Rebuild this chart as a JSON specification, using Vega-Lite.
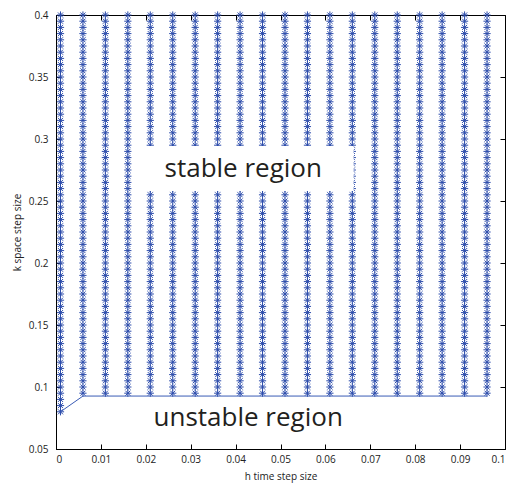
{
"$schema": "https://vega.github.io/schema/vega-lite/v6.json",
"width": 449, "height": 434,
"autosize": {"type": "none"},
"padding": {"left": 56, "top": 15, "right": 5, "bottom": 35},
"background": "white",
"config": {"view": {"stroke": "#000000", "strokeWidth": 1}, "font": "Open Sans",
 "axis": {"labelFont": "Open Sans", "titleFont": "Open Sans", "labelFontSize": 10, "titleFontSize": 10, "titleFontWeight": "normal", "labelColor": "#222222", "titleColor": "#222222", "tickColor": "#000000", "domainColor": "#000000", "grid": false}},
"resolve": {"axis": {"x": "independent", "y": "independent"}},
"layer": [
{"data": {"values": [
{"h":0.001,"k":0.08},{"h":0.001,"k":0.085},{"h":0.001,"k":0.09},{"h":0.001,"k":0.095},{"h":0.001,"k":0.1},{"h":0.001,"k":0.105},{"h":0.001,"k":0.11},{"h":0.001,"k":0.115},{"h":0.001,"k":0.12},{"h":0.001,"k":0.125},{"h":0.001,"k":0.13},{"h":0.001,"k":0.135},{"h":0.001,"k":0.14},{"h":0.001,"k":0.145},{"h":0.001,"k":0.15},{"h":0.001,"k":0.155},{"h":0.001,"k":0.16},{"h":0.001,"k":0.165},{"h":0.001,"k":0.17},{"h":0.001,"k":0.175},{"h":0.001,"k":0.18},{"h":0.001,"k":0.185},{"h":0.001,"k":0.19},{"h":0.001,"k":0.195},{"h":0.001,"k":0.2},{"h":0.001,"k":0.205},{"h":0.001,"k":0.21},{"h":0.001,"k":0.215},{"h":0.001,"k":0.22},{"h":0.001,"k":0.225},{"h":0.001,"k":0.23},{"h":0.001,"k":0.235},{"h":0.001,"k":0.24},{"h":0.001,"k":0.245},{"h":0.001,"k":0.25},{"h":0.001,"k":0.255},{"h":0.001,"k":0.26},{"h":0.001,"k":0.265},{"h":0.001,"k":0.27},{"h":0.001,"k":0.275},{"h":0.001,"k":0.28},{"h":0.001,"k":0.285},{"h":0.001,"k":0.29},{"h":0.001,"k":0.295},{"h":0.001,"k":0.3},{"h":0.001,"k":0.305},{"h":0.001,"k":0.31},{"h":0.001,"k":0.315},{"h":0.001,"k":0.32},{"h":0.001,"k":0.325},{"h":0.001,"k":0.33},{"h":0.001,"k":0.335},{"h":0.001,"k":0.34},{"h":0.001,"k":0.345},{"h":0.001,"k":0.35},{"h":0.001,"k":0.355},{"h":0.001,"k":0.36},{"h":0.001,"k":0.365},{"h":0.001,"k":0.37},{"h":0.001,"k":0.375},{"h":0.001,"k":0.38},{"h":0.001,"k":0.385},{"h":0.001,"k":0.39},{"h":0.001,"k":0.395},{"h":0.001,"k":0.4},
{"h":0.006,"k":0.095},{"h":0.006,"k":0.1},{"h":0.006,"k":0.105},{"h":0.006,"k":0.11},{"h":0.006,"k":0.115},{"h":0.006,"k":0.12},{"h":0.006,"k":0.125},{"h":0.006,"k":0.13},{"h":0.006,"k":0.135},{"h":0.006,"k":0.14},{"h":0.006,"k":0.145},{"h":0.006,"k":0.15},{"h":0.006,"k":0.155},{"h":0.006,"k":0.16},{"h":0.006,"k":0.165},{"h":0.006,"k":0.17},{"h":0.006,"k":0.175},{"h":0.006,"k":0.18},{"h":0.006,"k":0.185},{"h":0.006,"k":0.19},{"h":0.006,"k":0.195},{"h":0.006,"k":0.2},{"h":0.006,"k":0.205},{"h":0.006,"k":0.21},{"h":0.006,"k":0.215},{"h":0.006,"k":0.22},{"h":0.006,"k":0.225},{"h":0.006,"k":0.23},{"h":0.006,"k":0.235},{"h":0.006,"k":0.24},{"h":0.006,"k":0.245},{"h":0.006,"k":0.25},{"h":0.006,"k":0.255},{"h":0.006,"k":0.26},{"h":0.006,"k":0.265},{"h":0.006,"k":0.27},{"h":0.006,"k":0.275},{"h":0.006,"k":0.28},{"h":0.006,"k":0.285},{"h":0.006,"k":0.29},{"h":0.006,"k":0.295},{"h":0.006,"k":0.3},{"h":0.006,"k":0.305},{"h":0.006,"k":0.31},{"h":0.006,"k":0.315},{"h":0.006,"k":0.32},{"h":0.006,"k":0.325},{"h":0.006,"k":0.33},{"h":0.006,"k":0.335},{"h":0.006,"k":0.34},{"h":0.006,"k":0.345},{"h":0.006,"k":0.35},{"h":0.006,"k":0.355},{"h":0.006,"k":0.36},{"h":0.006,"k":0.365},{"h":0.006,"k":0.37},{"h":0.006,"k":0.375},{"h":0.006,"k":0.38},{"h":0.006,"k":0.385},{"h":0.006,"k":0.39},{"h":0.006,"k":0.395},{"h":0.006,"k":0.4},
{"h":0.011,"k":0.095},{"h":0.011,"k":0.1},{"h":0.011,"k":0.105},{"h":0.011,"k":0.11},{"h":0.011,"k":0.115},{"h":0.011,"k":0.12},{"h":0.011,"k":0.125},{"h":0.011,"k":0.13},{"h":0.011,"k":0.135},{"h":0.011,"k":0.14},{"h":0.011,"k":0.145},{"h":0.011,"k":0.15},{"h":0.011,"k":0.155},{"h":0.011,"k":0.16},{"h":0.011,"k":0.165},{"h":0.011,"k":0.17},{"h":0.011,"k":0.175},{"h":0.011,"k":0.18},{"h":0.011,"k":0.185},{"h":0.011,"k":0.19},{"h":0.011,"k":0.195},{"h":0.011,"k":0.2},{"h":0.011,"k":0.205},{"h":0.011,"k":0.21},{"h":0.011,"k":0.215},{"h":0.011,"k":0.22},{"h":0.011,"k":0.225},{"h":0.011,"k":0.23},{"h":0.011,"k":0.235},{"h":0.011,"k":0.24},{"h":0.011,"k":0.245},{"h":0.011,"k":0.25},{"h":0.011,"k":0.255},{"h":0.011,"k":0.26},{"h":0.011,"k":0.265},{"h":0.011,"k":0.27},{"h":0.011,"k":0.275},{"h":0.011,"k":0.28},{"h":0.011,"k":0.285},{"h":0.011,"k":0.29},{"h":0.011,"k":0.295},{"h":0.011,"k":0.3},{"h":0.011,"k":0.305},{"h":0.011,"k":0.31},{"h":0.011,"k":0.315},{"h":0.011,"k":0.32},{"h":0.011,"k":0.325},{"h":0.011,"k":0.33},{"h":0.011,"k":0.335},{"h":0.011,"k":0.34},{"h":0.011,"k":0.345},{"h":0.011,"k":0.35},{"h":0.011,"k":0.355},{"h":0.011,"k":0.36},{"h":0.011,"k":0.365},{"h":0.011,"k":0.37},{"h":0.011,"k":0.375},{"h":0.011,"k":0.38},{"h":0.011,"k":0.385},{"h":0.011,"k":0.39},{"h":0.011,"k":0.395},{"h":0.011,"k":0.4},
{"h":0.016,"k":0.095},{"h":0.016,"k":0.1},{"h":0.016,"k":0.105},{"h":0.016,"k":0.11},{"h":0.016,"k":0.115},{"h":0.016,"k":0.12},{"h":0.016,"k":0.125},{"h":0.016,"k":0.13},{"h":0.016,"k":0.135},{"h":0.016,"k":0.14},{"h":0.016,"k":0.145},{"h":0.016,"k":0.15},{"h":0.016,"k":0.155},{"h":0.016,"k":0.16},{"h":0.016,"k":0.165},{"h":0.016,"k":0.17},{"h":0.016,"k":0.175},{"h":0.016,"k":0.18},{"h":0.016,"k":0.185},{"h":0.016,"k":0.19},{"h":0.016,"k":0.195},{"h":0.016,"k":0.2},{"h":0.016,"k":0.205},{"h":0.016,"k":0.21},{"h":0.016,"k":0.215},{"h":0.016,"k":0.22},{"h":0.016,"k":0.225},{"h":0.016,"k":0.23},{"h":0.016,"k":0.235},{"h":0.016,"k":0.24},{"h":0.016,"k":0.245},{"h":0.016,"k":0.25},{"h":0.016,"k":0.255},{"h":0.016,"k":0.26},{"h":0.016,"k":0.265},{"h":0.016,"k":0.27},{"h":0.016,"k":0.275},{"h":0.016,"k":0.28},{"h":0.016,"k":0.285},{"h":0.016,"k":0.29},{"h":0.016,"k":0.295},{"h":0.016,"k":0.3},{"h":0.016,"k":0.305},{"h":0.016,"k":0.31},{"h":0.016,"k":0.315},{"h":0.016,"k":0.32},{"h":0.016,"k":0.325},{"h":0.016,"k":0.33},{"h":0.016,"k":0.335},{"h":0.016,"k":0.34},{"h":0.016,"k":0.345},{"h":0.016,"k":0.35},{"h":0.016,"k":0.355},{"h":0.016,"k":0.36},{"h":0.016,"k":0.365},{"h":0.016,"k":0.37},{"h":0.016,"k":0.375},{"h":0.016,"k":0.38},{"h":0.016,"k":0.385},{"h":0.016,"k":0.39},{"h":0.016,"k":0.395},{"h":0.016,"k":0.4},
{"h":0.021,"k":0.095},{"h":0.021,"k":0.1},{"h":0.021,"k":0.105},{"h":0.021,"k":0.11},{"h":0.021,"k":0.115},{"h":0.021,"k":0.12},{"h":0.021,"k":0.125},{"h":0.021,"k":0.13},{"h":0.021,"k":0.135},{"h":0.021,"k":0.14},{"h":0.021,"k":0.145},{"h":0.021,"k":0.15},{"h":0.021,"k":0.155},{"h":0.021,"k":0.16},{"h":0.021,"k":0.165},{"h":0.021,"k":0.17},{"h":0.021,"k":0.175},{"h":0.021,"k":0.18},{"h":0.021,"k":0.185},{"h":0.021,"k":0.19},{"h":0.021,"k":0.195},{"h":0.021,"k":0.2},{"h":0.021,"k":0.205},{"h":0.021,"k":0.21},{"h":0.021,"k":0.215},{"h":0.021,"k":0.22},{"h":0.021,"k":0.225},{"h":0.021,"k":0.23},{"h":0.021,"k":0.235},{"h":0.021,"k":0.24},{"h":0.021,"k":0.245},{"h":0.021,"k":0.25},{"h":0.021,"k":0.255},{"h":0.021,"k":0.26},{"h":0.021,"k":0.265},{"h":0.021,"k":0.27},{"h":0.021,"k":0.275},{"h":0.021,"k":0.28},{"h":0.021,"k":0.285},{"h":0.021,"k":0.29},{"h":0.021,"k":0.295},{"h":0.021,"k":0.3},{"h":0.021,"k":0.305},{"h":0.021,"k":0.31},{"h":0.021,"k":0.315},{"h":0.021,"k":0.32},{"h":0.021,"k":0.325},{"h":0.021,"k":0.33},{"h":0.021,"k":0.335},{"h":0.021,"k":0.34},{"h":0.021,"k":0.345},{"h":0.021,"k":0.35},{"h":0.021,"k":0.355},{"h":0.021,"k":0.36},{"h":0.021,"k":0.365},{"h":0.021,"k":0.37},{"h":0.021,"k":0.375},{"h":0.021,"k":0.38},{"h":0.021,"k":0.385},{"h":0.021,"k":0.39},{"h":0.021,"k":0.395},{"h":0.021,"k":0.4},
{"h":0.026,"k":0.095},{"h":0.026,"k":0.1},{"h":0.026,"k":0.105},{"h":0.026,"k":0.11},{"h":0.026,"k":0.115},{"h":0.026,"k":0.12},{"h":0.026,"k":0.125},{"h":0.026,"k":0.13},{"h":0.026,"k":0.135},{"h":0.026,"k":0.14},{"h":0.026,"k":0.145},{"h":0.026,"k":0.15},{"h":0.026,"k":0.155},{"h":0.026,"k":0.16},{"h":0.026,"k":0.165},{"h":0.026,"k":0.17},{"h":0.026,"k":0.175},{"h":0.026,"k":0.18},{"h":0.026,"k":0.185},{"h":0.026,"k":0.19},{"h":0.026,"k":0.195},{"h":0.026,"k":0.2},{"h":0.026,"k":0.205},{"h":0.026,"k":0.21},{"h":0.026,"k":0.215},{"h":0.026,"k":0.22},{"h":0.026,"k":0.225},{"h":0.026,"k":0.23},{"h":0.026,"k":0.235},{"h":0.026,"k":0.24},{"h":0.026,"k":0.245},{"h":0.026,"k":0.25},{"h":0.026,"k":0.255},{"h":0.026,"k":0.26},{"h":0.026,"k":0.265},{"h":0.026,"k":0.27},{"h":0.026,"k":0.275},{"h":0.026,"k":0.28},{"h":0.026,"k":0.285},{"h":0.026,"k":0.29},{"h":0.026,"k":0.295},{"h":0.026,"k":0.3},{"h":0.026,"k":0.305},{"h":0.026,"k":0.31},{"h":0.026,"k":0.315},{"h":0.026,"k":0.32},{"h":0.026,"k":0.325},{"h":0.026,"k":0.33},{"h":0.026,"k":0.335},{"h":0.026,"k":0.34},{"h":0.026,"k":0.345},{"h":0.026,"k":0.35},{"h":0.026,"k":0.355},{"h":0.026,"k":0.36},{"h":0.026,"k":0.365},{"h":0.026,"k":0.37},{"h":0.026,"k":0.375},{"h":0.026,"k":0.38},{"h":0.026,"k":0.385},{"h":0.026,"k":0.39},{"h":0.026,"k":0.395},{"h":0.026,"k":0.4},
{"h":0.031,"k":0.095},{"h":0.031,"k":0.1},{"h":0.031,"k":0.105},{"h":0.031,"k":0.11},{"h":0.031,"k":0.115},{"h":0.031,"k":0.12},{"h":0.031,"k":0.125},{"h":0.031,"k":0.13},{"h":0.031,"k":0.135},{"h":0.031,"k":0.14},{"h":0.031,"k":0.145},{"h":0.031,"k":0.15},{"h":0.031,"k":0.155},{"h":0.031,"k":0.16},{"h":0.031,"k":0.165},{"h":0.031,"k":0.17},{"h":0.031,"k":0.175},{"h":0.031,"k":0.18},{"h":0.031,"k":0.185},{"h":0.031,"k":0.19},{"h":0.031,"k":0.195},{"h":0.031,"k":0.2},{"h":0.031,"k":0.205},{"h":0.031,"k":0.21},{"h":0.031,"k":0.215},{"h":0.031,"k":0.22},{"h":0.031,"k":0.225},{"h":0.031,"k":0.23},{"h":0.031,"k":0.235},{"h":0.031,"k":0.24},{"h":0.031,"k":0.245},{"h":0.031,"k":0.25},{"h":0.031,"k":0.255},{"h":0.031,"k":0.26},{"h":0.031,"k":0.265},{"h":0.031,"k":0.27},{"h":0.031,"k":0.275},{"h":0.031,"k":0.28},{"h":0.031,"k":0.285},{"h":0.031,"k":0.29},{"h":0.031,"k":0.295},{"h":0.031,"k":0.3},{"h":0.031,"k":0.305},{"h":0.031,"k":0.31},{"h":0.031,"k":0.315},{"h":0.031,"k":0.32},{"h":0.031,"k":0.325},{"h":0.031,"k":0.33},{"h":0.031,"k":0.335},{"h":0.031,"k":0.34},{"h":0.031,"k":0.345},{"h":0.031,"k":0.35},{"h":0.031,"k":0.355},{"h":0.031,"k":0.36},{"h":0.031,"k":0.365},{"h":0.031,"k":0.37},{"h":0.031,"k":0.375},{"h":0.031,"k":0.38},{"h":0.031,"k":0.385},{"h":0.031,"k":0.39},{"h":0.031,"k":0.395},{"h":0.031,"k":0.4},
{"h":0.036,"k":0.095},{"h":0.036,"k":0.1},{"h":0.036,"k":0.105},{"h":0.036,"k":0.11},{"h":0.036,"k":0.115},{"h":0.036,"k":0.12},{"h":0.036,"k":0.125},{"h":0.036,"k":0.13},{"h":0.036,"k":0.135},{"h":0.036,"k":0.14},{"h":0.036,"k":0.145},{"h":0.036,"k":0.15},{"h":0.036,"k":0.155},{"h":0.036,"k":0.16},{"h":0.036,"k":0.165},{"h":0.036,"k":0.17},{"h":0.036,"k":0.175},{"h":0.036,"k":0.18},{"h":0.036,"k":0.185},{"h":0.036,"k":0.19},{"h":0.036,"k":0.195},{"h":0.036,"k":0.2},{"h":0.036,"k":0.205},{"h":0.036,"k":0.21},{"h":0.036,"k":0.215},{"h":0.036,"k":0.22},{"h":0.036,"k":0.225},{"h":0.036,"k":0.23},{"h":0.036,"k":0.235},{"h":0.036,"k":0.24},{"h":0.036,"k":0.245},{"h":0.036,"k":0.25},{"h":0.036,"k":0.255},{"h":0.036,"k":0.26},{"h":0.036,"k":0.265},{"h":0.036,"k":0.27},{"h":0.036,"k":0.275},{"h":0.036,"k":0.28},{"h":0.036,"k":0.285},{"h":0.036,"k":0.29},{"h":0.036,"k":0.295},{"h":0.036,"k":0.3},{"h":0.036,"k":0.305},{"h":0.036,"k":0.31},{"h":0.036,"k":0.315},{"h":0.036,"k":0.32},{"h":0.036,"k":0.325},{"h":0.036,"k":0.33},{"h":0.036,"k":0.335},{"h":0.036,"k":0.34},{"h":0.036,"k":0.345},{"h":0.036,"k":0.35},{"h":0.036,"k":0.355},{"h":0.036,"k":0.36},{"h":0.036,"k":0.365},{"h":0.036,"k":0.37},{"h":0.036,"k":0.375},{"h":0.036,"k":0.38},{"h":0.036,"k":0.385},{"h":0.036,"k":0.39},{"h":0.036,"k":0.395},{"h":0.036,"k":0.4},
{"h":0.041,"k":0.095},{"h":0.041,"k":0.1},{"h":0.041,"k":0.105},{"h":0.041,"k":0.11},{"h":0.041,"k":0.115},{"h":0.041,"k":0.12},{"h":0.041,"k":0.125},{"h":0.041,"k":0.13},{"h":0.041,"k":0.135},{"h":0.041,"k":0.14},{"h":0.041,"k":0.145},{"h":0.041,"k":0.15},{"h":0.041,"k":0.155},{"h":0.041,"k":0.16},{"h":0.041,"k":0.165},{"h":0.041,"k":0.17},{"h":0.041,"k":0.175},{"h":0.041,"k":0.18},{"h":0.041,"k":0.185},{"h":0.041,"k":0.19},{"h":0.041,"k":0.195},{"h":0.041,"k":0.2},{"h":0.041,"k":0.205},{"h":0.041,"k":0.21},{"h":0.041,"k":0.215},{"h":0.041,"k":0.22},{"h":0.041,"k":0.225},{"h":0.041,"k":0.23},{"h":0.041,"k":0.235},{"h":0.041,"k":0.24},{"h":0.041,"k":0.245},{"h":0.041,"k":0.25},{"h":0.041,"k":0.255},{"h":0.041,"k":0.26},{"h":0.041,"k":0.265},{"h":0.041,"k":0.27},{"h":0.041,"k":0.275},{"h":0.041,"k":0.28},{"h":0.041,"k":0.285},{"h":0.041,"k":0.29},{"h":0.041,"k":0.295},{"h":0.041,"k":0.3},{"h":0.041,"k":0.305},{"h":0.041,"k":0.31},{"h":0.041,"k":0.315},{"h":0.041,"k":0.32},{"h":0.041,"k":0.325},{"h":0.041,"k":0.33},{"h":0.041,"k":0.335},{"h":0.041,"k":0.34},{"h":0.041,"k":0.345},{"h":0.041,"k":0.35},{"h":0.041,"k":0.355},{"h":0.041,"k":0.36},{"h":0.041,"k":0.365},{"h":0.041,"k":0.37},{"h":0.041,"k":0.375},{"h":0.041,"k":0.38},{"h":0.041,"k":0.385},{"h":0.041,"k":0.39},{"h":0.041,"k":0.395},{"h":0.041,"k":0.4},
{"h":0.046,"k":0.095},{"h":0.046,"k":0.1},{"h":0.046,"k":0.105},{"h":0.046,"k":0.11},{"h":0.046,"k":0.115},{"h":0.046,"k":0.12},{"h":0.046,"k":0.125},{"h":0.046,"k":0.13},{"h":0.046,"k":0.135},{"h":0.046,"k":0.14},{"h":0.046,"k":0.145},{"h":0.046,"k":0.15},{"h":0.046,"k":0.155},{"h":0.046,"k":0.16},{"h":0.046,"k":0.165},{"h":0.046,"k":0.17},{"h":0.046,"k":0.175},{"h":0.046,"k":0.18},{"h":0.046,"k":0.185},{"h":0.046,"k":0.19},{"h":0.046,"k":0.195},{"h":0.046,"k":0.2},{"h":0.046,"k":0.205},{"h":0.046,"k":0.21},{"h":0.046,"k":0.215},{"h":0.046,"k":0.22},{"h":0.046,"k":0.225},{"h":0.046,"k":0.23},{"h":0.046,"k":0.235},{"h":0.046,"k":0.24},{"h":0.046,"k":0.245},{"h":0.046,"k":0.25},{"h":0.046,"k":0.255},{"h":0.046,"k":0.26},{"h":0.046,"k":0.265},{"h":0.046,"k":0.27},{"h":0.046,"k":0.275},{"h":0.046,"k":0.28},{"h":0.046,"k":0.285},{"h":0.046,"k":0.29},{"h":0.046,"k":0.295},{"h":0.046,"k":0.3},{"h":0.046,"k":0.305},{"h":0.046,"k":0.31},{"h":0.046,"k":0.315},{"h":0.046,"k":0.32},{"h":0.046,"k":0.325},{"h":0.046,"k":0.33},{"h":0.046,"k":0.335},{"h":0.046,"k":0.34},{"h":0.046,"k":0.345},{"h":0.046,"k":0.35},{"h":0.046,"k":0.355},{"h":0.046,"k":0.36},{"h":0.046,"k":0.365},{"h":0.046,"k":0.37},{"h":0.046,"k":0.375},{"h":0.046,"k":0.38},{"h":0.046,"k":0.385},{"h":0.046,"k":0.39},{"h":0.046,"k":0.395},{"h":0.046,"k":0.4},
{"h":0.051,"k":0.095},{"h":0.051,"k":0.1},{"h":0.051,"k":0.105},{"h":0.051,"k":0.11},{"h":0.051,"k":0.115},{"h":0.051,"k":0.12},{"h":0.051,"k":0.125},{"h":0.051,"k":0.13},{"h":0.051,"k":0.135},{"h":0.051,"k":0.14},{"h":0.051,"k":0.145},{"h":0.051,"k":0.15},{"h":0.051,"k":0.155},{"h":0.051,"k":0.16},{"h":0.051,"k":0.165},{"h":0.051,"k":0.17},{"h":0.051,"k":0.175},{"h":0.051,"k":0.18},{"h":0.051,"k":0.185},{"h":0.051,"k":0.19},{"h":0.051,"k":0.195},{"h":0.051,"k":0.2},{"h":0.051,"k":0.205},{"h":0.051,"k":0.21},{"h":0.051,"k":0.215},{"h":0.051,"k":0.22},{"h":0.051,"k":0.225},{"h":0.051,"k":0.23},{"h":0.051,"k":0.235},{"h":0.051,"k":0.24},{"h":0.051,"k":0.245},{"h":0.051,"k":0.25},{"h":0.051,"k":0.255},{"h":0.051,"k":0.26},{"h":0.051,"k":0.265},{"h":0.051,"k":0.27},{"h":0.051,"k":0.275},{"h":0.051,"k":0.28},{"h":0.051,"k":0.285},{"h":0.051,"k":0.29},{"h":0.051,"k":0.295},{"h":0.051,"k":0.3},{"h":0.051,"k":0.305},{"h":0.051,"k":0.31},{"h":0.051,"k":0.315},{"h":0.051,"k":0.32},{"h":0.051,"k":0.325},{"h":0.051,"k":0.33},{"h":0.051,"k":0.335},{"h":0.051,"k":0.34},{"h":0.051,"k":0.345},{"h":0.051,"k":0.35},{"h":0.051,"k":0.355},{"h":0.051,"k":0.36},{"h":0.051,"k":0.365},{"h":0.051,"k":0.37},{"h":0.051,"k":0.375},{"h":0.051,"k":0.38},{"h":0.051,"k":0.385},{"h":0.051,"k":0.39},{"h":0.051,"k":0.395},{"h":0.051,"k":0.4},
{"h":0.056,"k":0.095},{"h":0.056,"k":0.1},{"h":0.056,"k":0.105},{"h":0.056,"k":0.11},{"h":0.056,"k":0.115},{"h":0.056,"k":0.12},{"h":0.056,"k":0.125},{"h":0.056,"k":0.13},{"h":0.056,"k":0.135},{"h":0.056,"k":0.14},{"h":0.056,"k":0.145},{"h":0.056,"k":0.15},{"h":0.056,"k":0.155},{"h":0.056,"k":0.16},{"h":0.056,"k":0.165},{"h":0.056,"k":0.17},{"h":0.056,"k":0.175},{"h":0.056,"k":0.18},{"h":0.056,"k":0.185},{"h":0.056,"k":0.19},{"h":0.056,"k":0.195},{"h":0.056,"k":0.2},{"h":0.056,"k":0.205},{"h":0.056,"k":0.21},{"h":0.056,"k":0.215},{"h":0.056,"k":0.22},{"h":0.056,"k":0.225},{"h":0.056,"k":0.23},{"h":0.056,"k":0.235},{"h":0.056,"k":0.24},{"h":0.056,"k":0.245},{"h":0.056,"k":0.25},{"h":0.056,"k":0.255},{"h":0.056,"k":0.26},{"h":0.056,"k":0.265},{"h":0.056,"k":0.27},{"h":0.056,"k":0.275},{"h":0.056,"k":0.28},{"h":0.056,"k":0.285},{"h":0.056,"k":0.29},{"h":0.056,"k":0.295},{"h":0.056,"k":0.3},{"h":0.056,"k":0.305},{"h":0.056,"k":0.31},{"h":0.056,"k":0.315},{"h":0.056,"k":0.32},{"h":0.056,"k":0.325},{"h":0.056,"k":0.33},{"h":0.056,"k":0.335},{"h":0.056,"k":0.34},{"h":0.056,"k":0.345},{"h":0.056,"k":0.35},{"h":0.056,"k":0.355},{"h":0.056,"k":0.36},{"h":0.056,"k":0.365},{"h":0.056,"k":0.37},{"h":0.056,"k":0.375},{"h":0.056,"k":0.38},{"h":0.056,"k":0.385},{"h":0.056,"k":0.39},{"h":0.056,"k":0.395},{"h":0.056,"k":0.4},
{"h":0.061,"k":0.095},{"h":0.061,"k":0.1},{"h":0.061,"k":0.105},{"h":0.061,"k":0.11},{"h":0.061,"k":0.115},{"h":0.061,"k":0.12},{"h":0.061,"k":0.125},{"h":0.061,"k":0.13},{"h":0.061,"k":0.135},{"h":0.061,"k":0.14},{"h":0.061,"k":0.145},{"h":0.061,"k":0.15},{"h":0.061,"k":0.155},{"h":0.061,"k":0.16},{"h":0.061,"k":0.165},{"h":0.061,"k":0.17},{"h":0.061,"k":0.175},{"h":0.061,"k":0.18},{"h":0.061,"k":0.185},{"h":0.061,"k":0.19},{"h":0.061,"k":0.195},{"h":0.061,"k":0.2},{"h":0.061,"k":0.205},{"h":0.061,"k":0.21},{"h":0.061,"k":0.215},{"h":0.061,"k":0.22},{"h":0.061,"k":0.225},{"h":0.061,"k":0.23},{"h":0.061,"k":0.235},{"h":0.061,"k":0.24},{"h":0.061,"k":0.245},{"h":0.061,"k":0.25},{"h":0.061,"k":0.255},{"h":0.061,"k":0.26},{"h":0.061,"k":0.265},{"h":0.061,"k":0.27},{"h":0.061,"k":0.275},{"h":0.061,"k":0.28},{"h":0.061,"k":0.285},{"h":0.061,"k":0.29},{"h":0.061,"k":0.295},{"h":0.061,"k":0.3},{"h":0.061,"k":0.305},{"h":0.061,"k":0.31},{"h":0.061,"k":0.315},{"h":0.061,"k":0.32},{"h":0.061,"k":0.325},{"h":0.061,"k":0.33},{"h":0.061,"k":0.335},{"h":0.061,"k":0.34},{"h":0.061,"k":0.345},{"h":0.061,"k":0.35},{"h":0.061,"k":0.355},{"h":0.061,"k":0.36},{"h":0.061,"k":0.365},{"h":0.061,"k":0.37},{"h":0.061,"k":0.375},{"h":0.061,"k":0.38},{"h":0.061,"k":0.385},{"h":0.061,"k":0.39},{"h":0.061,"k":0.395},{"h":0.061,"k":0.4},
{"h":0.066,"k":0.095},{"h":0.066,"k":0.1},{"h":0.066,"k":0.105},{"h":0.066,"k":0.11},{"h":0.066,"k":0.115},{"h":0.066,"k":0.12},{"h":0.066,"k":0.125},{"h":0.066,"k":0.13},{"h":0.066,"k":0.135},{"h":0.066,"k":0.14},{"h":0.066,"k":0.145},{"h":0.066,"k":0.15},{"h":0.066,"k":0.155},{"h":0.066,"k":0.16},{"h":0.066,"k":0.165},{"h":0.066,"k":0.17},{"h":0.066,"k":0.175},{"h":0.066,"k":0.18},{"h":0.066,"k":0.185},{"h":0.066,"k":0.19},{"h":0.066,"k":0.195},{"h":0.066,"k":0.2},{"h":0.066,"k":0.205},{"h":0.066,"k":0.21},{"h":0.066,"k":0.215},{"h":0.066,"k":0.22},{"h":0.066,"k":0.225},{"h":0.066,"k":0.23},{"h":0.066,"k":0.235},{"h":0.066,"k":0.24},{"h":0.066,"k":0.245},{"h":0.066,"k":0.25},{"h":0.066,"k":0.255},{"h":0.066,"k":0.26},{"h":0.066,"k":0.265},{"h":0.066,"k":0.27},{"h":0.066,"k":0.275},{"h":0.066,"k":0.28},{"h":0.066,"k":0.285},{"h":0.066,"k":0.29},{"h":0.066,"k":0.295},{"h":0.066,"k":0.3},{"h":0.066,"k":0.305},{"h":0.066,"k":0.31},{"h":0.066,"k":0.315},{"h":0.066,"k":0.32},{"h":0.066,"k":0.325},{"h":0.066,"k":0.33},{"h":0.066,"k":0.335},{"h":0.066,"k":0.34},{"h":0.066,"k":0.345},{"h":0.066,"k":0.35},{"h":0.066,"k":0.355},{"h":0.066,"k":0.36},{"h":0.066,"k":0.365},{"h":0.066,"k":0.37},{"h":0.066,"k":0.375},{"h":0.066,"k":0.38},{"h":0.066,"k":0.385},{"h":0.066,"k":0.39},{"h":0.066,"k":0.395},{"h":0.066,"k":0.4},
{"h":0.071,"k":0.095},{"h":0.071,"k":0.1},{"h":0.071,"k":0.105},{"h":0.071,"k":0.11},{"h":0.071,"k":0.115},{"h":0.071,"k":0.12},{"h":0.071,"k":0.125},{"h":0.071,"k":0.13},{"h":0.071,"k":0.135},{"h":0.071,"k":0.14},{"h":0.071,"k":0.145},{"h":0.071,"k":0.15},{"h":0.071,"k":0.155},{"h":0.071,"k":0.16},{"h":0.071,"k":0.165},{"h":0.071,"k":0.17},{"h":0.071,"k":0.175},{"h":0.071,"k":0.18},{"h":0.071,"k":0.185},{"h":0.071,"k":0.19},{"h":0.071,"k":0.195},{"h":0.071,"k":0.2},{"h":0.071,"k":0.205},{"h":0.071,"k":0.21},{"h":0.071,"k":0.215},{"h":0.071,"k":0.22},{"h":0.071,"k":0.225},{"h":0.071,"k":0.23},{"h":0.071,"k":0.235},{"h":0.071,"k":0.24},{"h":0.071,"k":0.245},{"h":0.071,"k":0.25},{"h":0.071,"k":0.255},{"h":0.071,"k":0.26},{"h":0.071,"k":0.265},{"h":0.071,"k":0.27},{"h":0.071,"k":0.275},{"h":0.071,"k":0.28},{"h":0.071,"k":0.285},{"h":0.071,"k":0.29},{"h":0.071,"k":0.295},{"h":0.071,"k":0.3},{"h":0.071,"k":0.305},{"h":0.071,"k":0.31},{"h":0.071,"k":0.315},{"h":0.071,"k":0.32},{"h":0.071,"k":0.325},{"h":0.071,"k":0.33},{"h":0.071,"k":0.335},{"h":0.071,"k":0.34},{"h":0.071,"k":0.345},{"h":0.071,"k":0.35},{"h":0.071,"k":0.355},{"h":0.071,"k":0.36},{"h":0.071,"k":0.365},{"h":0.071,"k":0.37},{"h":0.071,"k":0.375},{"h":0.071,"k":0.38},{"h":0.071,"k":0.385},{"h":0.071,"k":0.39},{"h":0.071,"k":0.395},{"h":0.071,"k":0.4},
{"h":0.076,"k":0.095},{"h":0.076,"k":0.1},{"h":0.076,"k":0.105},{"h":0.076,"k":0.11},{"h":0.076,"k":0.115},{"h":0.076,"k":0.12},{"h":0.076,"k":0.125},{"h":0.076,"k":0.13},{"h":0.076,"k":0.135},{"h":0.076,"k":0.14},{"h":0.076,"k":0.145},{"h":0.076,"k":0.15},{"h":0.076,"k":0.155},{"h":0.076,"k":0.16},{"h":0.076,"k":0.165},{"h":0.076,"k":0.17},{"h":0.076,"k":0.175},{"h":0.076,"k":0.18},{"h":0.076,"k":0.185},{"h":0.076,"k":0.19},{"h":0.076,"k":0.195},{"h":0.076,"k":0.2},{"h":0.076,"k":0.205},{"h":0.076,"k":0.21},{"h":0.076,"k":0.215},{"h":0.076,"k":0.22},{"h":0.076,"k":0.225},{"h":0.076,"k":0.23},{"h":0.076,"k":0.235},{"h":0.076,"k":0.24},{"h":0.076,"k":0.245},{"h":0.076,"k":0.25},{"h":0.076,"k":0.255},{"h":0.076,"k":0.26},{"h":0.076,"k":0.265},{"h":0.076,"k":0.27},{"h":0.076,"k":0.275},{"h":0.076,"k":0.28},{"h":0.076,"k":0.285},{"h":0.076,"k":0.29},{"h":0.076,"k":0.295},{"h":0.076,"k":0.3},{"h":0.076,"k":0.305},{"h":0.076,"k":0.31},{"h":0.076,"k":0.315},{"h":0.076,"k":0.32},{"h":0.076,"k":0.325},{"h":0.076,"k":0.33},{"h":0.076,"k":0.335},{"h":0.076,"k":0.34},{"h":0.076,"k":0.345},{"h":0.076,"k":0.35},{"h":0.076,"k":0.355},{"h":0.076,"k":0.36},{"h":0.076,"k":0.365},{"h":0.076,"k":0.37},{"h":0.076,"k":0.375},{"h":0.076,"k":0.38},{"h":0.076,"k":0.385},{"h":0.076,"k":0.39},{"h":0.076,"k":0.395},{"h":0.076,"k":0.4},
{"h":0.081,"k":0.095},{"h":0.081,"k":0.1},{"h":0.081,"k":0.105},{"h":0.081,"k":0.11},{"h":0.081,"k":0.115},{"h":0.081,"k":0.12},{"h":0.081,"k":0.125},{"h":0.081,"k":0.13},{"h":0.081,"k":0.135},{"h":0.081,"k":0.14},{"h":0.081,"k":0.145},{"h":0.081,"k":0.15},{"h":0.081,"k":0.155},{"h":0.081,"k":0.16},{"h":0.081,"k":0.165},{"h":0.081,"k":0.17},{"h":0.081,"k":0.175},{"h":0.081,"k":0.18},{"h":0.081,"k":0.185},{"h":0.081,"k":0.19},{"h":0.081,"k":0.195},{"h":0.081,"k":0.2},{"h":0.081,"k":0.205},{"h":0.081,"k":0.21},{"h":0.081,"k":0.215},{"h":0.081,"k":0.22},{"h":0.081,"k":0.225},{"h":0.081,"k":0.23},{"h":0.081,"k":0.235},{"h":0.081,"k":0.24},{"h":0.081,"k":0.245},{"h":0.081,"k":0.25},{"h":0.081,"k":0.255},{"h":0.081,"k":0.26},{"h":0.081,"k":0.265},{"h":0.081,"k":0.27},{"h":0.081,"k":0.275},{"h":0.081,"k":0.28},{"h":0.081,"k":0.285},{"h":0.081,"k":0.29},{"h":0.081,"k":0.295},{"h":0.081,"k":0.3},{"h":0.081,"k":0.305},{"h":0.081,"k":0.31},{"h":0.081,"k":0.315},{"h":0.081,"k":0.32},{"h":0.081,"k":0.325},{"h":0.081,"k":0.33},{"h":0.081,"k":0.335},{"h":0.081,"k":0.34},{"h":0.081,"k":0.345},{"h":0.081,"k":0.35},{"h":0.081,"k":0.355},{"h":0.081,"k":0.36},{"h":0.081,"k":0.365},{"h":0.081,"k":0.37},{"h":0.081,"k":0.375},{"h":0.081,"k":0.38},{"h":0.081,"k":0.385},{"h":0.081,"k":0.39},{"h":0.081,"k":0.395},{"h":0.081,"k":0.4},
{"h":0.086,"k":0.095},{"h":0.086,"k":0.1},{"h":0.086,"k":0.105},{"h":0.086,"k":0.11},{"h":0.086,"k":0.115},{"h":0.086,"k":0.12},{"h":0.086,"k":0.125},{"h":0.086,"k":0.13},{"h":0.086,"k":0.135},{"h":0.086,"k":0.14},{"h":0.086,"k":0.145},{"h":0.086,"k":0.15},{"h":0.086,"k":0.155},{"h":0.086,"k":0.16},{"h":0.086,"k":0.165},{"h":0.086,"k":0.17},{"h":0.086,"k":0.175},{"h":0.086,"k":0.18},{"h":0.086,"k":0.185},{"h":0.086,"k":0.19},{"h":0.086,"k":0.195},{"h":0.086,"k":0.2},{"h":0.086,"k":0.205},{"h":0.086,"k":0.21},{"h":0.086,"k":0.215},{"h":0.086,"k":0.22},{"h":0.086,"k":0.225},{"h":0.086,"k":0.23},{"h":0.086,"k":0.235},{"h":0.086,"k":0.24},{"h":0.086,"k":0.245},{"h":0.086,"k":0.25},{"h":0.086,"k":0.255},{"h":0.086,"k":0.26},{"h":0.086,"k":0.265},{"h":0.086,"k":0.27},{"h":0.086,"k":0.275},{"h":0.086,"k":0.28},{"h":0.086,"k":0.285},{"h":0.086,"k":0.29},{"h":0.086,"k":0.295},{"h":0.086,"k":0.3},{"h":0.086,"k":0.305},{"h":0.086,"k":0.31},{"h":0.086,"k":0.315},{"h":0.086,"k":0.32},{"h":0.086,"k":0.325},{"h":0.086,"k":0.33},{"h":0.086,"k":0.335},{"h":0.086,"k":0.34},{"h":0.086,"k":0.345},{"h":0.086,"k":0.35},{"h":0.086,"k":0.355},{"h":0.086,"k":0.36},{"h":0.086,"k":0.365},{"h":0.086,"k":0.37},{"h":0.086,"k":0.375},{"h":0.086,"k":0.38},{"h":0.086,"k":0.385},{"h":0.086,"k":0.39},{"h":0.086,"k":0.395},{"h":0.086,"k":0.4},
{"h":0.091,"k":0.095},{"h":0.091,"k":0.1},{"h":0.091,"k":0.105},{"h":0.091,"k":0.11},{"h":0.091,"k":0.115},{"h":0.091,"k":0.12},{"h":0.091,"k":0.125},{"h":0.091,"k":0.13},{"h":0.091,"k":0.135},{"h":0.091,"k":0.14},{"h":0.091,"k":0.145},{"h":0.091,"k":0.15},{"h":0.091,"k":0.155},{"h":0.091,"k":0.16},{"h":0.091,"k":0.165},{"h":0.091,"k":0.17},{"h":0.091,"k":0.175},{"h":0.091,"k":0.18},{"h":0.091,"k":0.185},{"h":0.091,"k":0.19},{"h":0.091,"k":0.195},{"h":0.091,"k":0.2},{"h":0.091,"k":0.205},{"h":0.091,"k":0.21},{"h":0.091,"k":0.215},{"h":0.091,"k":0.22},{"h":0.091,"k":0.225},{"h":0.091,"k":0.23},{"h":0.091,"k":0.235},{"h":0.091,"k":0.24},{"h":0.091,"k":0.245},{"h":0.091,"k":0.25},{"h":0.091,"k":0.255},{"h":0.091,"k":0.26},{"h":0.091,"k":0.265},{"h":0.091,"k":0.27},{"h":0.091,"k":0.275},{"h":0.091,"k":0.28},{"h":0.091,"k":0.285},{"h":0.091,"k":0.29},{"h":0.091,"k":0.295},{"h":0.091,"k":0.3},{"h":0.091,"k":0.305},{"h":0.091,"k":0.31},{"h":0.091,"k":0.315},{"h":0.091,"k":0.32},{"h":0.091,"k":0.325},{"h":0.091,"k":0.33},{"h":0.091,"k":0.335},{"h":0.091,"k":0.34},{"h":0.091,"k":0.345},{"h":0.091,"k":0.35},{"h":0.091,"k":0.355},{"h":0.091,"k":0.36},{"h":0.091,"k":0.365},{"h":0.091,"k":0.37},{"h":0.091,"k":0.375},{"h":0.091,"k":0.38},{"h":0.091,"k":0.385},{"h":0.091,"k":0.39},{"h":0.091,"k":0.395},{"h":0.091,"k":0.4},
{"h":0.096,"k":0.095},{"h":0.096,"k":0.1},{"h":0.096,"k":0.105},{"h":0.096,"k":0.11},{"h":0.096,"k":0.115},{"h":0.096,"k":0.12},{"h":0.096,"k":0.125},{"h":0.096,"k":0.13},{"h":0.096,"k":0.135},{"h":0.096,"k":0.14},{"h":0.096,"k":0.145},{"h":0.096,"k":0.15},{"h":0.096,"k":0.155},{"h":0.096,"k":0.16},{"h":0.096,"k":0.165},{"h":0.096,"k":0.17},{"h":0.096,"k":0.175},{"h":0.096,"k":0.18},{"h":0.096,"k":0.185},{"h":0.096,"k":0.19},{"h":0.096,"k":0.195},{"h":0.096,"k":0.2},{"h":0.096,"k":0.205},{"h":0.096,"k":0.21},{"h":0.096,"k":0.215},{"h":0.096,"k":0.22},{"h":0.096,"k":0.225},{"h":0.096,"k":0.23},{"h":0.096,"k":0.235},{"h":0.096,"k":0.24},{"h":0.096,"k":0.245},{"h":0.096,"k":0.25},{"h":0.096,"k":0.255},{"h":0.096,"k":0.26},{"h":0.096,"k":0.265},{"h":0.096,"k":0.27},{"h":0.096,"k":0.275},{"h":0.096,"k":0.28},{"h":0.096,"k":0.285},{"h":0.096,"k":0.29},{"h":0.096,"k":0.295},{"h":0.096,"k":0.3},{"h":0.096,"k":0.305},{"h":0.096,"k":0.31},{"h":0.096,"k":0.315},{"h":0.096,"k":0.32},{"h":0.096,"k":0.325},{"h":0.096,"k":0.33},{"h":0.096,"k":0.335},{"h":0.096,"k":0.34},{"h":0.096,"k":0.345},{"h":0.096,"k":0.35},{"h":0.096,"k":0.355},{"h":0.096,"k":0.36},{"h":0.096,"k":0.365},{"h":0.096,"k":0.37},{"h":0.096,"k":0.375},{"h":0.096,"k":0.38},{"h":0.096,"k":0.385},{"h":0.096,"k":0.39},{"h":0.096,"k":0.395},{"h":0.096,"k":0.4}
]},
 "mark": {"type": "point", "shape": "M0,-1L0,1M-1,0L1,0M-0.7,-0.7L0.7,0.7M-0.7,0.7L0.7,-0.7", "filled": false, "stroke": "#2c4cab", "strokeWidth": 1, "size": 52, "opacity": 1},
 "encoding": {
  "x": {"field": "h", "type": "quantitative", "scale": {"domain": [0, 0.1], "nice": false, "zero": false}, "axis": {"orient": "bottom", "values": [0, 0.01, 0.02, 0.03, 0.04, 0.05, 0.06, 0.07, 0.08, 0.09, 0.1], "format": "~g", "title": "h time step size", "tickSize": -5, "labelPadding": 10, "titlePadding": 7, "domain": true}},
  "y": {"field": "k", "type": "quantitative", "scale": {"domain": [0.05, 0.4], "nice": false, "zero": false}, "axis": {"orient": "left", "values": [0.05, 0.1, 0.15, 0.2, 0.25, 0.3, 0.35, 0.4], "format": "~g", "title": "k space step size", "tickSize": -5, "labelPadding": 13, "titlePadding": 6, "domain": true}}
 }
},
{"data": {"values": [{"x1": 0.0185, "x2": 0.0663, "y1": 0.258, "y2": 0.2944}]},
 "mark": {"type": "rect", "fill": "white", "stroke": null},
 "encoding": {"x": {"field": "x1", "type": "quantitative", "axis": null}, "x2": {"field": "x2"}, "y": {"field": "y1", "type": "quantitative", "axis": null}, "y2": {"field": "y2"}}
},
{"data": {"values": [{"h": 0.001, "k": 0.08, "o": 1}, {"h": 0.006, "k": 0.0927, "o": 2}, {"h": 0.096, "k": 0.0927, "o": 3}]},
 "mark": {"type": "line", "stroke": "#3a5bb5", "strokeWidth": 1},
 "encoding": {
  "x": {"field": "h", "type": "quantitative", "axis": {"orient": "top", "values": [0, 0.01, 0.02, 0.03, 0.04, 0.05, 0.06, 0.07, 0.08, 0.09, 0.1], "labels": false, "title": null, "tickSize": -5, "domain": false}},
  "y": {"field": "k", "type": "quantitative", "axis": {"orient": "right", "values": [0.05, 0.1, 0.15, 0.2, 0.25, 0.3, 0.35, 0.4], "labels": false, "title": null, "tickSize": -5, "domain": false}},
  "order": {"field": "o", "type": "quantitative"}
 }
},
{"data": {"values": [{"h": 0.0417, "k": 0.2694, "t": "stable  region"}, {"h": 0.0428, "k": 0.0685, "t": "unstable region"}]},
 "mark": {"type": "text", "font": "Open Sans", "fontSize": 26, "color": "#231f20", "baseline": "alphabetic", "align": "center"},
 "encoding": {"x": {"field": "h", "type": "quantitative", "axis": null}, "y": {"field": "k", "type": "quantitative", "axis": null}, "text": {"field": "t"}}
}
]
}
